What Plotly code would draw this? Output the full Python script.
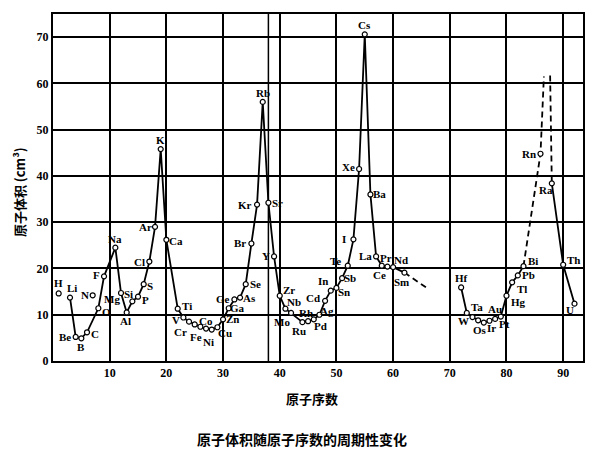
import plotly.graph_objects as go

# ---- data ----
symbols = ["H", "Li", "Be", "B", "C", "N", "O", "F", "Na", "Mg", "Al", "Si", "P", "S", "Cl", "Ar",
           "K", "Ca", "Ti", "V", "Cr", "Mn", "Fe", "Co", "Ni", "Cu", "Zn", "Ga", "Ge", "As", "Se", "Br", "Kr",
           "Rb", "Sr", "Y", "Zr", "Nb", "Mo", "Ru", "Rh", "Pd", "Ag", "Cd", "In", "Sn", "Sb", "Te", "I", "Xe",
           "Cs", "Ba", "La", "Ce", "Pr", "Nd", "Sm",
           "Hf", "Ta", "W", "Re", "Os", "Ir", "Pt", "Au", "Hg", "Tl", "Pb", "Bi",
           "Rn", "Ra", "Th", "U"]
atomic_numbers = [1, 3, 4, 5, 6, 7, 8, 9, 11, 12, 13, 14, 15, 16, 17, 18,
                  19, 20, 22, 23, 24, 25, 26, 27, 28, 29, 30, 31, 32, 33, 34, 35, 36,
                  37, 38, 39, 40, 41, 42, 44, 45, 46, 47, 48, 49, 50, 51, 52, 53, 54,
                  55, 56, 57, 58, 59, 60, 62,
                  72, 73, 74, 75, 76, 77, 78, 79, 80, 81, 82, 83,
                  86, 88, 90, 92]
volumes = [14.6, 13.7, 5.2, 4.9, 6.2, 14.2, 11.4, 18.3, 24.5, 14.7, 10.5, 12.9, 13.9, 16.6, 21.5, 29.0,
           45.8, 26.2, 11.3, 9.4, 8.5, 7.9, 7.4, 7.0, 6.8, 7.3, 9.0, 11.4, 13.3, 13.7, 16.6, 25.4, 33.8,
           56.0, 34.2, 22.6, 14.1, 11.3, 10.4, 8.4, 8.6, 9.0, 10.0, 13.0, 15.2, 15.8, 17.9, 20.6, 26.3, 41.5,
           70.6, 36.0, 22.6, 20.6, 20.4, 20.3, 19.1,
           15.9, 10.4, 9.5, 8.8, 8.3, 8.7, 9.1, 9.6, 14.1, 17.0, 18.5, 20.5,
           44.8, 38.4, 20.8, 12.4]

# which elements stand alone (no connecting line)
isolated = ["H", "N"]
# solid curve pieces
curve_1 = symbols[1:5] + symbols[6:57]       # Li ... Sm (N skipped)
curve_2 = symbols[57:69]                      # Hf ... Bi
curve_3 = ["Ra", "Th", "U"]
# dashed extrapolations
lanthanide_tail_z = [62, 66.3]
lanthanide_tail_v = [19.1, 15.5]
rn_branch_z = [83, 86, 86.6]
rn_branch_v = [20.5, 44.8, 61.5]
ra_branch_z = [87.7, 88]
ra_branch_v = [61.7, 38.4]

x_ticks = [10, 20, 30, 40, 50, 60, 70, 80, 90]
y_ticks = [0, 10, 20, 30, 40, 50, 60, 70]
extra_grid_x = [38]

# label offsets in pixels (dx, dy up)
label_offsets = {
    "H": (0, 10), "Li": (2, 10), "N": (-8, 0), "Be": (-11, 0), "B": (0, -9), "C": (8, -2),
    "O": (8, -4), "F": (-8, 1), "Na": (0, 9), "Mg": (-9, -6), "Al": (-1, -9), "Si": (-4, 7),
    "P": (7, -3), "S": (6, -2), "Cl": (-10, 0), "Ar": (-10, 0), "K": (0, 9), "Ca": (10, -1),
    "Ti": (9, 3), "V": (-7, -2), "Cr": (-9, -10), "Mn": None, "Fe": (-4, -10), "Co": (0, 8),
    "Ni": (-3, -12), "Cu": (8, -6), "Zn": (9, 0), "Ga": (9, 0), "Ge": (-11, 0), "As": (9, 0),
    "Se": (10, 0), "Br": (-11, 0), "Kr": (-12, 0), "Rb": (0, 9), "Sr": (9, 0), "Y": (-8, 0),
    "Zr": (9, 6), "Nb": (9, 7), "Mo": (-9, -9), "Ru": (-3, -9), "Rh": (-2, 8), "Pd": (7, -7),
    "Ag": (8, 4), "Cd": (-12, 3), "In": (-8, 10), "Sn": (8, -4), "Sb": (8, 0), "Te": (-12, 5),
    "I": (-9, 0), "Xe": (-11, 2), "Cs": (0, 9), "Ba": (9, 0), "La": (-11, 0), "Ce": (-2, -9),
    "Pr": (-1, 9), "Nd": (8, 7), "Sm": (-3, -9), "Hf": (0, 9), "Ta": (10, 6), "W": (-9, -4),
    "Re": None, "Os": (-4, -7), "Ir": (2, -7), "Pt": (9, -5), "Au": (-6, 8), "Hg": (12, -6),
    "Tl": (10, -7), "Pb": (11, 0), "Bi": (10, 5), "Rn": (-11, 0), "Ra": (-6, -7), "Th": (10, 5),
    "U": (-5, -6),
}

z_of = dict(zip(symbols, atomic_numbers))
v_of = dict(zip(symbols, volumes))

SERIF = "Liberation Serif, Times New Roman, serif"
CJK = "Noto Sans CJK SC"
line_style = dict(color="black", width=1.8)
marker_style = dict(symbol="circle", size=5, color="white", line=dict(color="black", width=1.2))

fig = go.Figure()


def add_curve(names):
    fig.add_trace(go.Scatter(
        x=[z_of[s] for s in names], y=[v_of[s] for s in names],
        mode="lines+markers", line=line_style, marker=marker_style,
        hoverinfo="skip", showlegend=False))


# dashed parts first (under markers)
for zs, vs in [(lanthanide_tail_z, lanthanide_tail_v), (rn_branch_z, rn_branch_v), (ra_branch_z, ra_branch_v)]:
    fig.add_trace(go.Scatter(x=zs, y=vs, mode="lines",
                             line=dict(color="black", width=1.8, dash="6px,4px"),
                             hoverinfo="skip", showlegend=False))

for c in (curve_1, curve_2, curve_3):
    add_curve(c)

fig.add_trace(go.Scatter(
    x=[z_of[s] for s in isolated], y=[v_of[s] for s in isolated],
    mode="markers", marker=marker_style, hoverinfo="skip", showlegend=False))

# Rn on dashed branch
fig.add_trace(go.Scatter(x=[z_of["Rn"]], y=[v_of["Rn"]], mode="markers", marker=marker_style,
                         hoverinfo="skip", showlegend=False))

annotations = []
for s in symbols:
    off = label_offsets.get(s)
    if off is None:
        continue
    annotations.append(dict(
        x=z_of[s], y=v_of[s], xref="x", yref="y", text=s, showarrow=False,
        xshift=off[0], yshift=off[1],
        font=dict(family=SERIF, size=11, color="black", weight="bold")))

# axis titles and caption
annotations.append(dict(x=0.5, y=-0.075, xref="paper", yref="paper", xanchor="center", yanchor="top",
                        text="原子序数", showarrow=False, xshift=-6,
                        font=dict(family=CJK, size=13, color="black", weight="bold")))
annotations.append(dict(x=0.47, y=-0.19, xref="paper", yref="paper", xanchor="center", yanchor="top",
                        text="原子体积随原子序数的周期性变化", showarrow=False,
                        font=dict(family=CJK, size=14, color="black", weight="bold")))
annotations.append(dict(x=-0.063, y=0.5, xref="paper", yref="paper", xanchor="center", yanchor="middle",
                        text="原子体积 (cm³)", showarrow=False, textangle=-90, xshift=0, yshift=-5,
                        font=dict(family=CJK, size=13, color="black", weight="bold")))

shapes = []
for gx in extra_grid_x:
    shapes.append(dict(type="line", xref="x", yref="paper", x0=gx, x1=gx, y0=0, y1=1,
                       line=dict(color="black", width=1.5), layer="below"))

# the page body adds an 8px offset, so the figure is 8px smaller and margins shifted
fig.update_layout(
    width=592, height=444,
    margin=dict(l=45, r=17, t=4, b=91),
    paper_bgcolor="white", plot_bgcolor="white",
    annotations=annotations, shapes=shapes,
    showlegend=False,
)
fig.update_xaxes(range=[0, 93.5], tickvals=x_ticks, showgrid=True, gridcolor="black", gridwidth=1.5,
                 zeroline=False, showline=True, mirror=True, linecolor="black", linewidth=2,
                 ticks="", tickfont=dict(family=SERIF, size=12, color="black", weight="bold"))
fig.update_yaxes(range=[0, 75], tickvals=y_ticks, showgrid=True, gridcolor="black", gridwidth=1.5,
                 zeroline=False, showline=True, mirror=True, linecolor="black", linewidth=2,
                 ticks="", tickfont=dict(family=SERIF, size=12, color="black", weight="bold"))

fig.write_html("out.html")
